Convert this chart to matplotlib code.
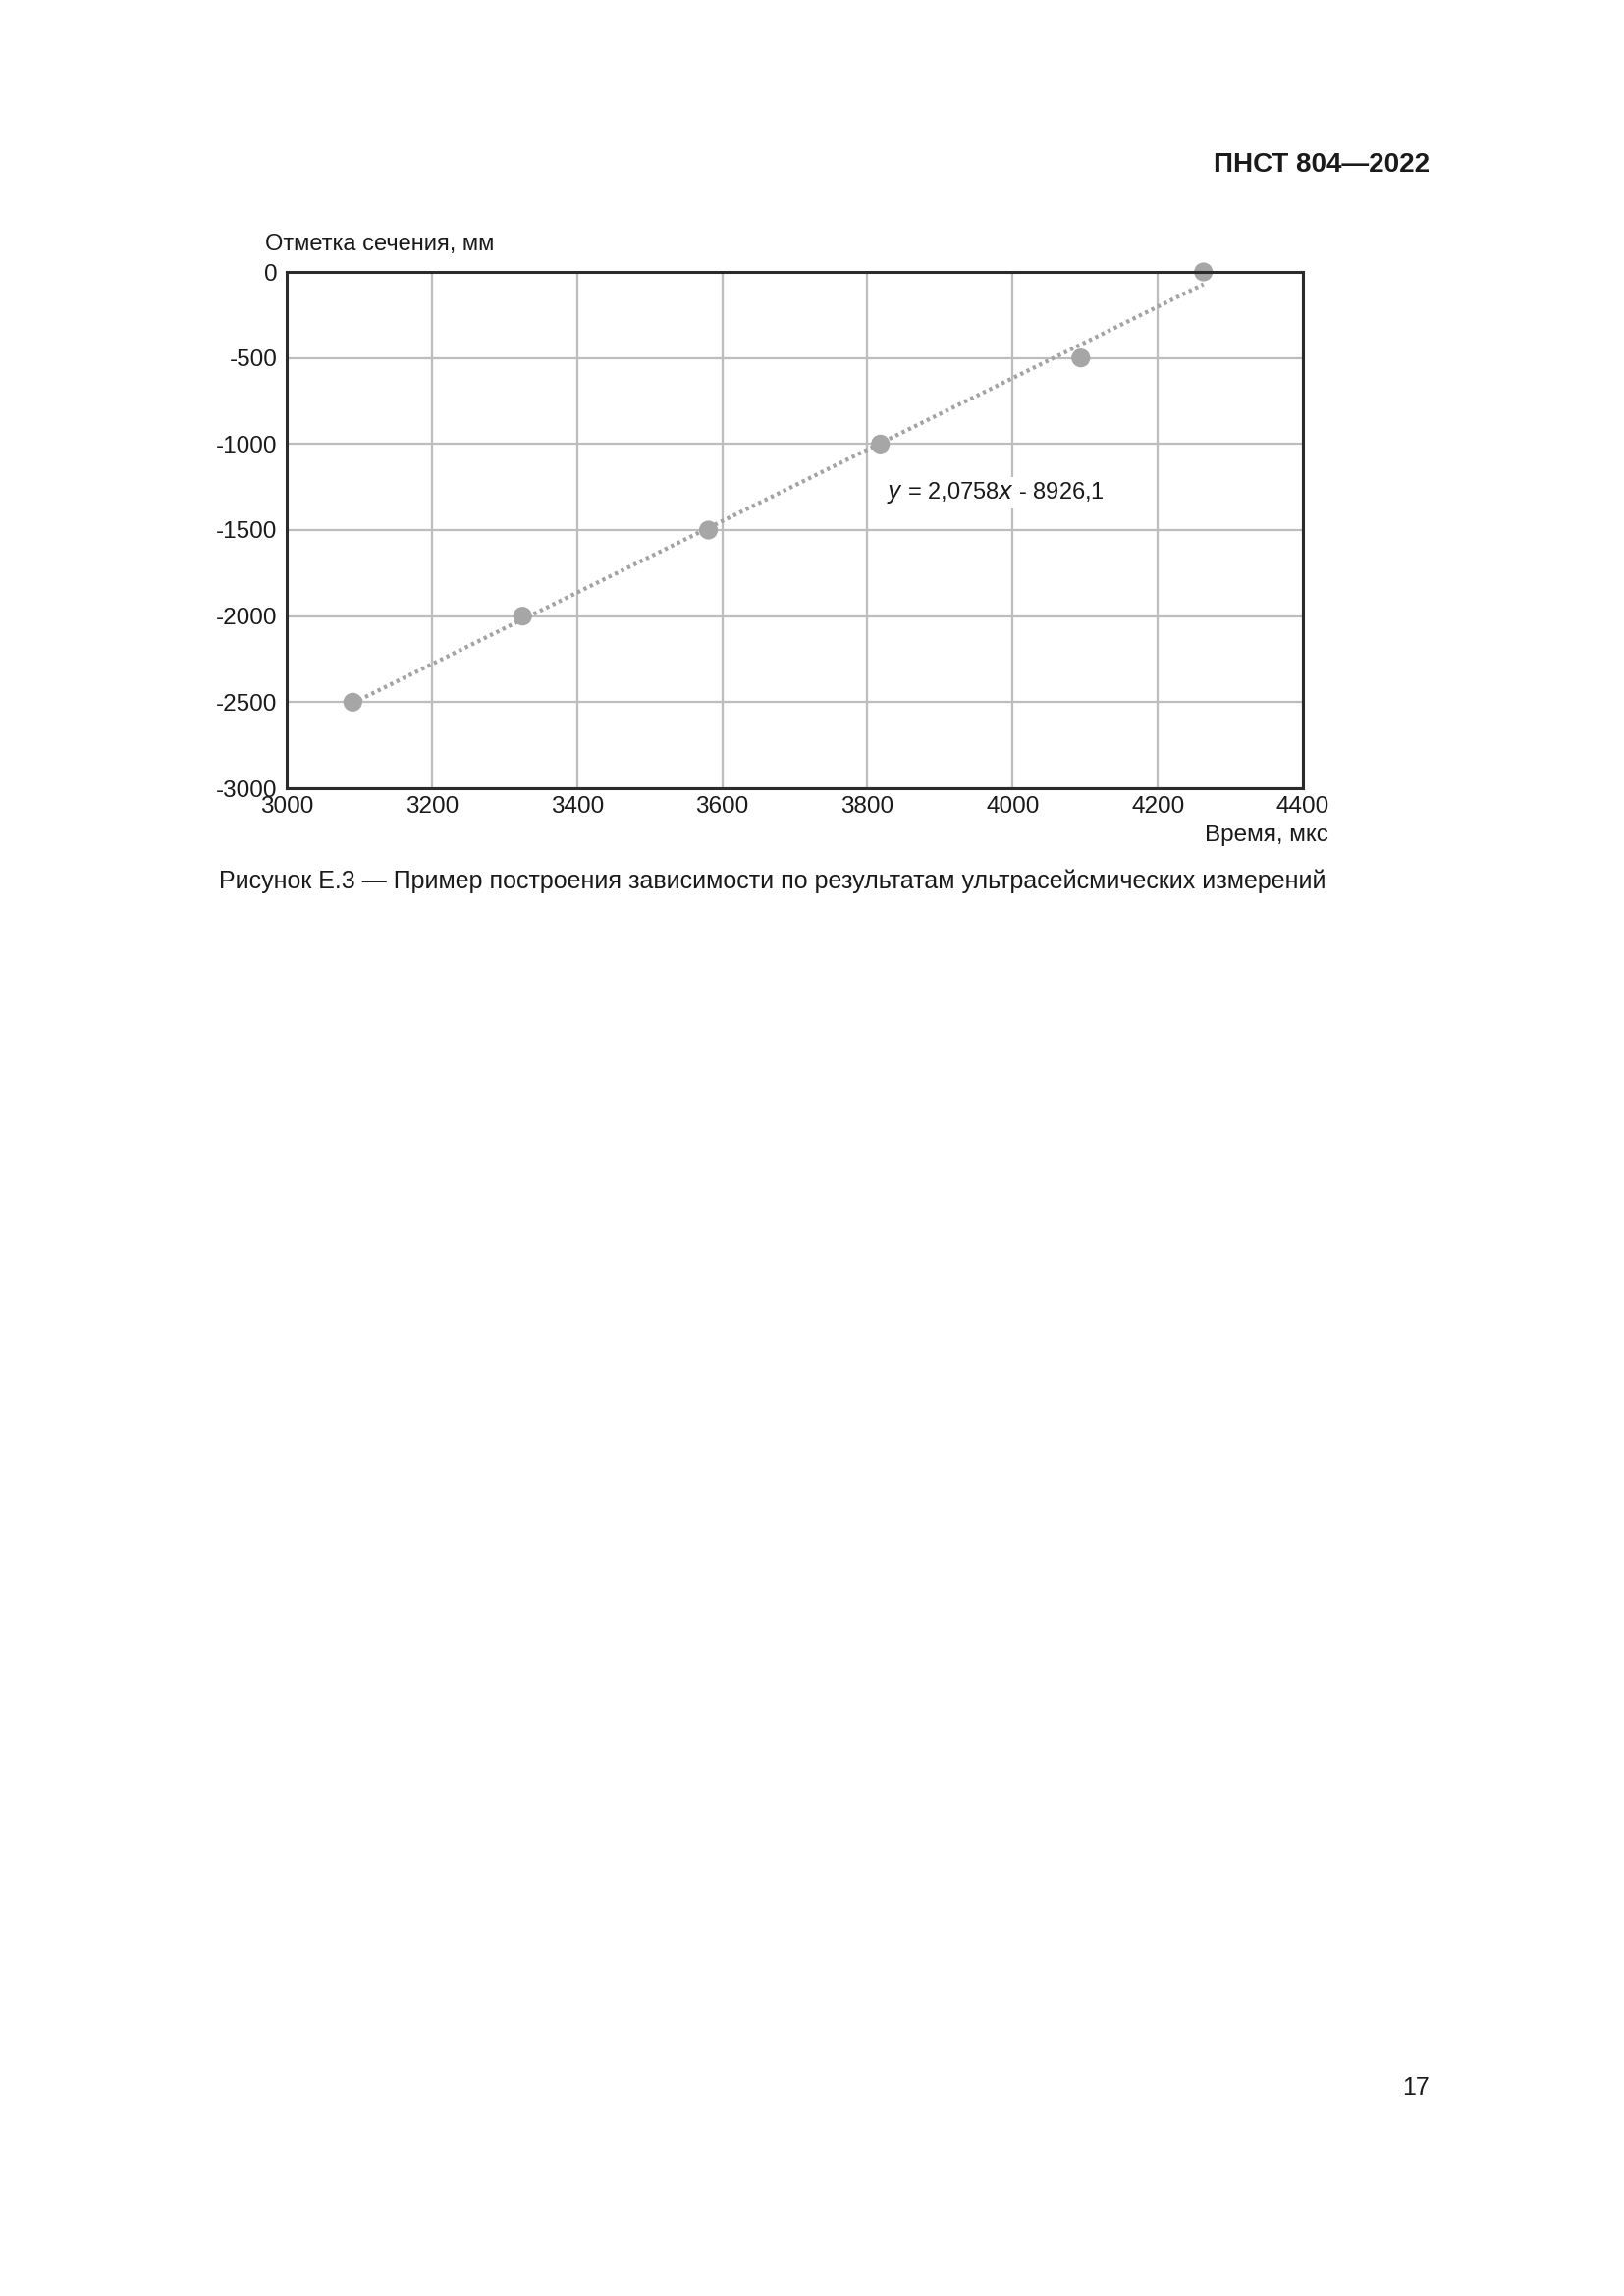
import numpy as np
import matplotlib
matplotlib.use("Agg")
import matplotlib.pyplot as plt

plt.rcParams['font.family'] = ['Liberation Sans', 'DejaVu Sans']
plt.rcParams['axes.unicode_minus'] = False

# Data
time_us = [3091, 3325, 3581, 3818, 4094, 4263]
elevation_mm = [-2500, -2000, -1500, -1000, -500, 0]
x_ticks = [3000, 3200, 3400, 3600, 3800, 4000, 4200, 4400]
y_ticks = [-3000, -2500, -2000, -1500, -1000, -500, 0]

header = "ПНСТ 804—2022"
y_label = "Отметка сечения, мм"
x_label = "Время, мкс"
caption = "Рисунок Е.3 — Пример построения зависимости по результатам ультрасейсмических измерений"
page_no = "17"

W, H = 1654, 2339
fig = plt.figure(figsize=(W / 100, H / 100), dpi=100)
fig.patch.set_facecolor('white')

def fx(px):
    return px / W

def fy(py):
    return 1 - py / H

left, right, top, bottom = 292, 1327, 277, 803
ax = fig.add_axes([fx(left), fy(bottom), fx(right) - fx(left), fy(top) - fy(bottom)])
ax.set_xlim(3000, 4400)
ax.set_ylim(-3000, 0)
ax.set_xticks(x_ticks)
ax.set_yticks(y_ticks)
ax.grid(True, color='#bdbdbd', linewidth=1.6, zorder=0)
ax.set_axisbelow(True)
for s in ax.spines.values():
    s.set_color('#2b2b2b')
    s.set_linewidth(2.2)
    s.set_zorder(5)
ax.tick_params(length=0, labelsize=17.5, colors='#1a1a1a', pad=6)
ax.tick_params(axis='y', pad=7)

# trend line
coef = np.polyfit(time_us, elevation_mm, 1)
xs = np.array([min(time_us), max(time_us)])
ax.plot(xs, np.polyval(coef, xs), linestyle=(0, (0.8, 0.9)), color='#a3a3a3',
        linewidth=3.0, dash_capstyle='butt', zorder=3, clip_on=False)
ax.scatter(time_us, elevation_mm, s=190, color='#a6a6a6', edgecolors='none',
           zorder=4, clip_on=False)

ax.text(3826, -1285, "$y$ = 2,0758$x$ - 8926,1", fontsize=17, color='#1a1a1a',
        va='center', ha='left', zorder=6,
        bbox=dict(facecolor='white', edgecolor='none', pad=2))

fig.text(fx(270), fy(249), y_label, fontsize=17, color='#1a1a1a', ha='left', va='center')
fig.text(fx(1353), fy(851), x_label, fontsize=17.5, color='#1a1a1a', ha='right', va='center')
fig.text(fx(1456), fy(168), header, fontsize=20, fontweight='bold', color='#1a1a1a',
         ha='right', va='center')
fig.text(fx(787), fy(898), caption, fontsize=18, color='#1a1a1a', ha='center', va='center')
fig.text(fx(1456), fy(2127), page_no, fontsize=18, color='#1a1a1a', ha='right', va='center')

fig.savefig("out.png", dpi=100, facecolor='white')
